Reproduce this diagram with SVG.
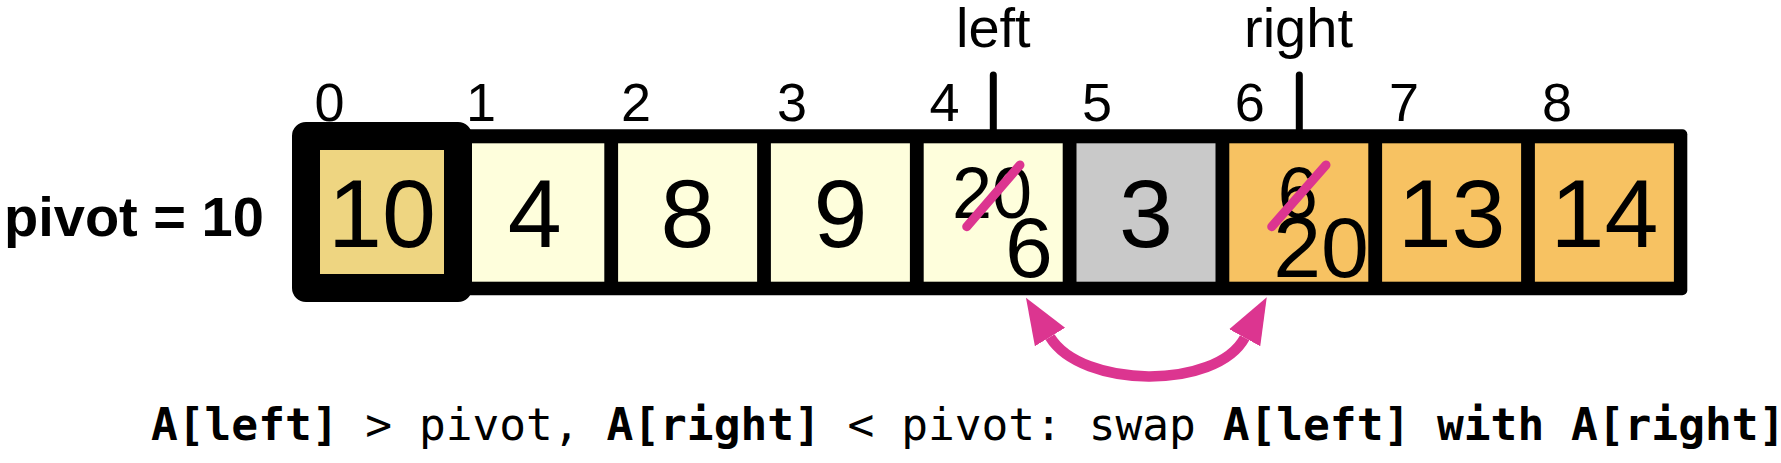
<svg xmlns="http://www.w3.org/2000/svg" width="1781" height="463" viewBox="0 0 1781 463">
<style>
.idx{font-family:"Liberation Sans",Arial,sans-serif;font-size:54px;fill:#000}
.val{font-family:"Liberation Sans",Arial,sans-serif;font-size:97px;fill:#000;text-anchor:middle}
.sm{font-family:"Liberation Sans",Arial,sans-serif;font-size:72px;fill:#000;text-anchor:middle}
.md{font-family:"Liberation Sans",Arial,sans-serif;font-size:86px;fill:#000;text-anchor:middle}
.ptr{font-family:"Liberation Sans",Arial,sans-serif;font-size:56px;fill:#000;text-anchor:middle}
.lo{fill:#FEFEDC}
.gr{fill:#C9C9C9}
.or{fill:#F7C262}
.strike{stroke:#DC3590;stroke-width:9;stroke-linecap:round;fill:none}
.pline{stroke:#000;stroke-width:7;stroke-linecap:round}
.mono{font-family:"DejaVu Sans Mono",monospace;font-size:44.5px;fill:#000}
.b{font-weight:bold}
</style>
<defs>
<marker id="ah" markerUnits="userSpaceOnUse" markerWidth="50" markerHeight="40" viewBox="0 -20 50 40" refX="0" refY="0" orient="auto-start-reverse">
<path d="M0,-17.7 L46,0 L0,17.7 Z" fill="#DC3590"/>
</marker>
</defs>

<text x="4" y="236" font-family="Liberation Sans, Arial, sans-serif" font-size="56" font-weight="bold">pivot = 10</text>

<g id="array">
<rect x="299" y="129.3" width="1388.3" height="166" rx="5" fill="#000"/>
</g>

<g id="cell1"><rect class="lo" x="465.3" y="143.3" width="139" height="138.4"/><text class="val" x="534.8" y="247">4</text><text class="idx" x="466" y="121">1</text></g>
<g id="cell2"><rect class="lo" x="618.1" y="143.3" width="139" height="138.4"/><text class="val" x="687.6" y="247">8</text><text class="idx" x="621" y="121">2</text></g>
<g id="cell3"><rect class="lo" x="770.9" y="143.3" width="139" height="138.4"/><text class="val" x="840.4" y="247">9</text><text class="idx" x="777" y="121">3</text></g>
<g id="cell4"><rect class="lo" x="923.7" y="143.3" width="139" height="138.4"/><text class="sm" x="992" y="218.3">20</text><line class="strike" x1="966.7" y1="226.7" x2="1020" y2="165"/><text class="md" x="1028.8" y="276.5">6</text><text class="idx" x="929.5" y="121">4</text></g>
<g id="cell5"><rect class="gr" x="1076.5" y="143.3" width="139" height="138.4"/><text class="val" x="1146" y="247">3</text><text class="idx" x="1082" y="121">5</text></g>
<g id="cell6"><rect class="or" x="1229.3" y="143.3" width="139" height="138.4"/><text class="sm" x="1297.7" y="218.3">6</text><line class="strike" x1="1271.7" y1="226.7" x2="1326" y2="165"/><text class="md" x="1321" y="277">20</text><text class="idx" x="1234.7" y="121">6</text></g>
<g id="cell7"><rect class="or" x="1382.1" y="143.3" width="139" height="138.4"/><text class="val" x="1451.6" y="247">13</text><text class="idx" x="1389" y="121">7</text></g>
<g id="cell8"><rect class="or" x="1534.9" y="143.3" width="139" height="138.4"/><text class="val" x="1604.4" y="247">14</text><text class="idx" x="1542" y="121">8</text></g>

<g id="cell0">
<rect x="306" y="136" width="152" height="152" fill="#EED581" stroke="#000" stroke-width="28" stroke-linejoin="round"/>
<text class="val" x="382" y="247">10</text>
<text class="idx" x="314.5" y="121">0</text>
</g>

<g id="left-pointer">
<text class="ptr" x="993.3" y="46.7">left</text>
<line class="pline" x1="993.3" y1="75" x2="993.3" y2="130"/>
</g>
<g id="right-pointer">
<text class="ptr" x="1298.5" y="46.7">right</text>
<line class="pline" x1="1299.3" y1="75" x2="1299.3" y2="130"/>
</g>

<g id="connectors">
<path d="M1050,337 C1081.6,388.6 1216,390.2 1244.7,337.7" fill="none" stroke="#DC3590" stroke-width="10.5" marker-start="url(#ah)" marker-end="url(#ah)"/>
</g>

<text class="mono" x="151" y="440" xml:space="preserve"><tspan class="b">A[left]</tspan> &gt; pivot, <tspan class="b">A[right]</tspan> &lt; pivot: swap <tspan class="b">A[left] with A[right]</tspan></text>
</svg>
